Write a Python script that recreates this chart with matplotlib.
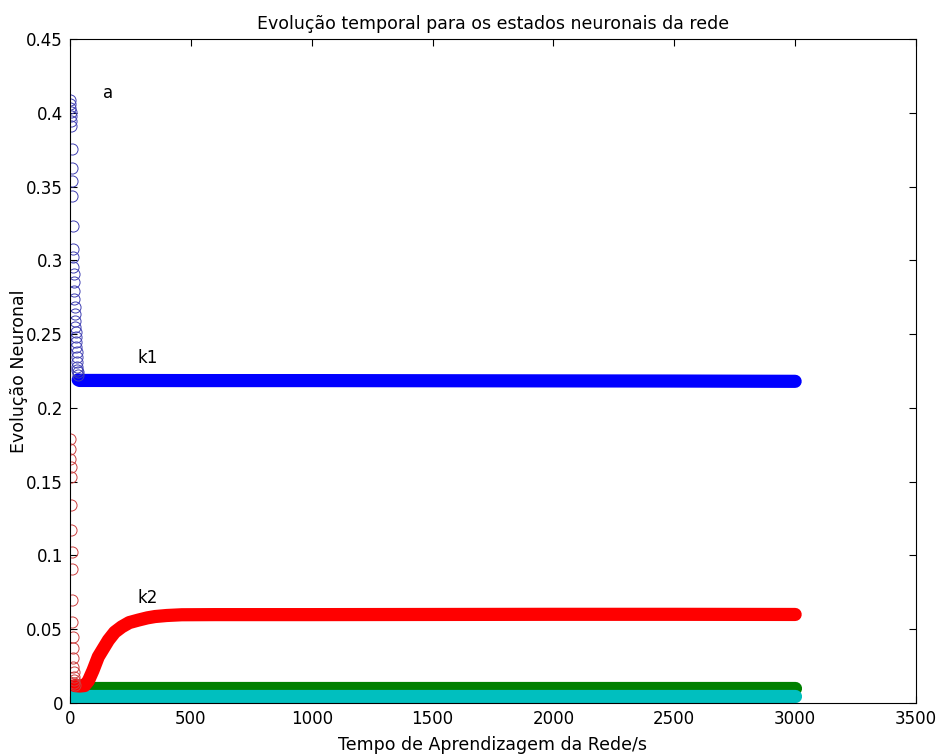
import numpy as np
import matplotlib.pyplot as plt

plt.rcParams['font.family'] = 'DejaVu Sans'

# --- data ---
# early transient (open circles), one sample per second
k1_trans = [0.4085, 0.4058, 0.4035, 0.4008, 0.3979, 0.3945, 0.3911, 0.3754,
            0.3625, 0.3539, 0.3438, 0.3235, 0.3077, 0.3020, 0.2952, 0.2908,
            0.2851, 0.2795, 0.2738, 0.2682, 0.2637, 0.2592, 0.2546, 0.2513,
            0.2479, 0.2445, 0.2411, 0.2377, 0.2343, 0.2310, 0.2276, 0.2255,
            0.2240, 0.2225]
k2_trans = [0.1791, 0.1723, 0.1656, 0.1599, 0.1531, 0.1340, 0.1171, 0.1024,
            0.0911, 0.0697, 0.0550, 0.0449, 0.0370, 0.0302, 0.0246, 0.0212,
            0.0178, 0.0156, 0.0135, 0.0122]
k3_trans = [0.0043, 0.0070, 0.0090, 0.0100]
k4_trans = [0.0010, 0.0025, 0.0038, 0.0045]

# settled part (dense markers that merge into a band)
k1_t = [34, 40, 60, 100, 500, 1000, 1500, 2000, 2500, 3000]
k1_v = [0.2190, 0.2186, 0.2186, 0.2186, 0.2185, 0.2185, 0.2184, 0.2183, 0.2182, 0.2180]
k2_t = [20, 40, 60, 76, 95, 117, 140, 159, 185, 214, 245, 283, 320, 352, 400,
        462, 600, 1000, 1500, 2000, 2500, 3000]
k2_v = [0.0118, 0.0115, 0.0118, 0.0150, 0.0220, 0.0313, 0.0375, 0.0426, 0.0480,
        0.0516, 0.0545, 0.0562, 0.0577, 0.0586, 0.0593, 0.0598, 0.0599, 0.0599,
        0.0600, 0.0601, 0.0601, 0.0600]
k3_t = [4, 100, 1000, 2000, 3000]
k3_v = [0.0104, 0.0104, 0.0104, 0.0104, 0.0104]
k4_t = [4, 100, 1000, 2000, 3000]
k4_v = [0.0047, 0.0047, 0.0047, 0.0047, 0.0047]

xticks = [0, 500, 1000, 1500, 2000, 2500, 3000, 3500]
yticks = [0, 0.05, 0.1, 0.15, 0.2, 0.25, 0.3, 0.35, 0.4, 0.45]
ytick_labels = ['0', '0.05', '0.1', '0.15', '0.2', '0.25', '0.3', '0.35', '0.4', '0.45']

fig = plt.figure(figsize=(9.37, 7.55), dpi=100)
ax = fig.add_axes([70 / 937, 52 / 755, 846 / 937, 664 / 755])

series = [
    (k1_trans, k1_t, k1_v, (0, 0, 1), (0.25, 0.25, 0.7)),
    (k3_trans, k3_t, k3_v, (0, 0.5, 0), (0, 0.5, 0)),
    (k4_trans, k4_t, k4_v, (0, 0.75, 0.75), (0, 0.75, 0.75)),
    (k2_trans, k2_t, k2_v, (1, 0, 0), (0.8, 0.25, 0.25)),
]
for trans, t, v, col, ccol in series:
    ax.plot(t, v, '-', color=col, lw=9.5, solid_capstyle='round',
            solid_joinstyle='round')
    ax.plot(np.arange(len(trans)), trans, 'o', mfc='none', mec=ccol,
            ms=8, mew=0.7)

ax.text(157, 0.4135, 'a', fontsize=12, ha='center', va='center')
ax.text(323, 0.2335, 'k1', fontsize=12, ha='center', va='center')
ax.text(323, 0.0710, 'k2', fontsize=12, ha='center', va='center')

ax.set_xlim(0, 3500)
ax.set_ylim(0, 0.45)
ax.set_xticks(xticks)
ax.set_yticks(yticks)
ax.set_yticklabels(ytick_labels)
ax.tick_params(direction='in', top=True, right=True, length=5, width=0.8,
               labelsize=12, pad=5)
for s in ax.spines.values():
    s.set_linewidth(0.8)

ax.set_title('Evolução temporal para os estados neuronais da rede', fontsize=12.5, pad=7)
ax.set_xlabel('Tempo de Aprendizagem da Rede/s', fontsize=12.5, labelpad=6)
ax.set_ylabel('Evolução Neuronal', fontsize=12.5)
ax.yaxis.set_label_coords(-0.050, 0.5)

fig.savefig('out.png', dpi=100)
